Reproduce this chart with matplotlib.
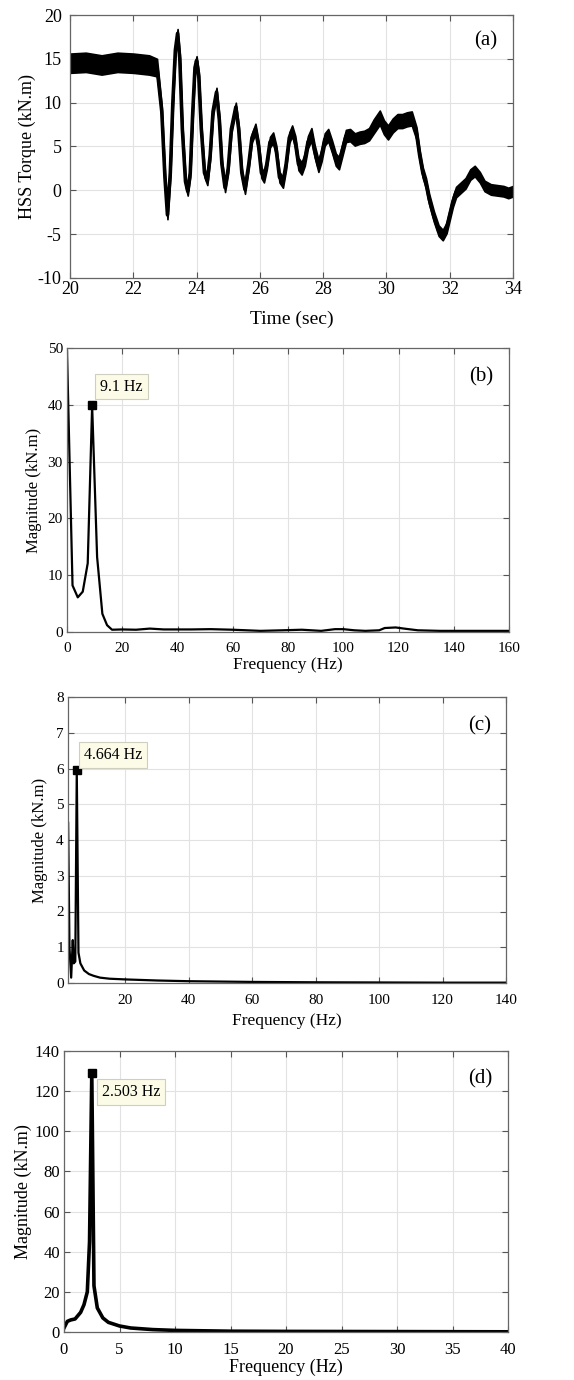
import matplotlib
matplotlib.use("Agg")
import matplotlib.pyplot as plt
import numpy as np

plt.rcParams['font.family'] = ['Liberation Serif', 'DejaVu Serif']
plt.rcParams['axes.unicode_minus'] = False

# ---------------- data ----------------
# (a) HSS torque: time, band centre, band half-width
time_a = [20.0, 20.5, 21.0, 21.5, 22.0, 22.5, 22.75, 22.9, 23.0, 23.08, 23.17, 23.25, 23.33, 23.4,
          23.47, 23.55, 23.65, 23.72, 23.8, 23.88, 23.95, 24.0, 24.07, 24.15, 24.25, 24.34, 24.43,
          24.52, 24.63, 24.72, 24.8, 24.9, 25.0, 25.1, 25.24, 25.33, 25.43, 25.53, 25.65, 25.75,
          25.86, 25.96, 26.05, 26.13, 26.22, 26.32, 26.42, 26.52, 26.62, 26.73, 26.83, 26.93, 27.02,
          27.12, 27.22, 27.32, 27.42, 27.52, 27.63, 27.73, 27.85, 27.95, 28.05, 28.16, 28.28, 28.4,
          28.5, 28.6, 28.72, 28.85, 29.0, 29.15, 29.3, 29.45, 29.6, 29.79, 29.92, 30.05, 30.2, 30.35,
          30.5, 30.65, 30.8, 30.95, 31.05, 31.15, 31.25, 31.35, 31.5, 31.65, 31.78, 31.9, 32.0, 32.1,
          32.2, 32.35, 32.5, 32.65, 32.79, 32.95, 33.1, 33.3, 33.5, 33.7, 33.85, 34.0]
torque_a = [14.5, 14.6, 14.3, 14.6, 14.5, 14.3, 14.0, 9.0, 1.5, -2.8, 2.0, 10.0, 16.0, 17.9,
            15.0, 7.0, 1.0, -0.1, 2.0, 9.0, 14.0, 14.8, 13.0, 7.0, 2.0, 1.1, 4.0,
            9.0, 11.2, 8.0, 3.0, 0.3, 2.5, 7.0, 9.5, 7.0, 2.0, 0.1, 3.0, 6.0,
            7.0, 5.0, 2.0, 1.5, 3.0, 5.5, 6.0, 4.5, 1.5, 0.9, 3.0, 6.0, 6.8,
            5.5, 3.0, 2.5, 3.5, 5.5, 6.4, 4.5, 2.8, 4.0, 5.8, 6.3, 5.0, 3.5,
            3.1, 4.5, 6.2, 6.3, 5.8, 6.0, 6.1, 6.4, 7.3, 8.3, 7.2, 6.6, 7.4, 7.9,
            7.9, 8.1, 8.2, 6.5, 4.0, 2.0, 0.8, -1.0, -3.0, -4.6, -5.1, -4.3, -2.8, -1.3,
            -0.2, 0.3, 0.8, 1.8, 2.2, 1.5, 0.5, 0.1, 0.0, -0.1, -0.3, -0.1]
halfw_a = [1.1, 1.1, 1.1, 1.1, 1.1, 1.1, 1.0, 0.6, 0.5, 0.5, 0.5, 0.5, 0.5, 0.5,
           0.5, 0.5, 0.5, 0.5, 0.5, 0.5, 0.5, 0.5, 0.5, 0.5, 0.5, 0.5, 0.5,
           0.5, 0.5, 0.5, 0.5, 0.5, 0.5, 0.5, 0.5, 0.5, 0.5, 0.5, 0.5, 0.5,
           0.6, 0.6, 0.6, 0.6, 0.6, 0.6, 0.6, 0.6, 0.6, 0.6, 0.6, 0.6, 0.6,
           0.7, 0.7, 0.7, 0.7, 0.7, 0.7, 0.7, 0.7, 0.7, 0.7, 0.7, 0.7, 0.7,
           0.7, 0.7, 0.7, 0.7, 0.7, 0.7, 0.7, 0.7, 0.8, 0.8, 0.8, 0.8, 0.8, 0.8,
           0.8, 0.8, 0.8, 0.7, 0.6, 0.6, 0.6, 0.6, 0.6, 0.6, 0.6, 0.6, 0.6, 0.6,
           0.6, 0.6, 0.6, 0.6, 0.6, 0.6, 0.6, 0.6, 0.6, 0.6, 0.6, 0.6]

# (b) spectrum
freq_b = [0.0, 2.0, 3.9, 5.7, 7.5, 9.1, 10.9, 12.8, 14.5, 16.3, 20, 25, 30, 35, 45, 52, 60, 70,
          78, 85, 92, 97, 100, 104, 108, 113, 115, 119, 122, 127, 135, 140, 150, 160]
mag_b = [49.4, 8.2, 6.1, 7.1, 12.1, 39.8, 13.2, 3.2, 1.2, 0.4, 0.45, 0.4, 0.6, 0.45, 0.45, 0.5,
         0.4, 0.2, 0.3, 0.4, 0.2, 0.5, 0.5, 0.3, 0.2, 0.3, 0.7, 0.8, 0.6, 0.3, 0.2, 0.2, 0.2, 0.2]
peak_b = (9.1, 40.0)

# (c) spectrum
freq_c = [1.94, 2.36, 2.9, 3.4, 3.7, 4.2, 4.664, 5.2, 5.8, 7.0, 8.5, 10, 12, 15, 20, 30, 40,
          50, 60, 80, 100, 120, 140]
mag_c = [4.48, 1.0, 0.15, 1.2, 0.55, 0.6, 5.95, 0.85, 0.55, 0.35, 0.25, 0.2, 0.15, 0.12, 0.1,
         0.07, 0.05, 0.04, 0.03, 0.02, 0.015, 0.01, 0.01]
peak_c = (4.664, 5.95)

# (d) spectrum
freq_d = [0.0, 0.3, 0.6, 1.0, 1.5, 1.8, 2.1, 2.3, 2.503, 2.7, 3.0, 3.5, 4.0, 5.0, 6.0, 8.0,
          10.0, 15.0, 20.0, 30.0, 40.0]
mag_d = [2.0, 5.3, 6.0, 6.5, 9.8, 13.6, 20.0, 45.0, 129.0, 23.0, 12.0, 7.0, 4.8, 3.0, 2.0, 1.2,
         0.8, 0.4, 0.3, 0.2, 0.1]
peak_d = (2.503, 129.0)

# ---------------- layout ----------------
W, H = 574, 1380
fig = plt.figure(figsize=(W / 100, H / 100), dpi=100)


def make_ax(l, r, t, b):
    return fig.add_axes([l / W, 1 - b / H, (r - l) / W, (b - t) / H])


def style(ax, tick_fs, xpad, ypad=3):
    ax.grid(True, color='#e2e2e2', linewidth=0.8)
    ax.set_axisbelow(True)
    ax.tick_params(direction='in', top=True, right=True, length=4, width=0.8,
                   color='#555555', labelsize=tick_fs)
    ax.tick_params(axis='x', pad=xpad)
    ax.tick_params(axis='y', pad=ypad)
    for s in ax.spines.values():
        s.set_color('#666666')
        s.set_linewidth(0.9)


box = dict(boxstyle='square,pad=0.3', facecolor='#fbfbe8', edgecolor='#cfcfc0', linewidth=0.8)

# (a)
ax = make_ax(70, 513, 15, 278)
t = np.array(time_a)
c = np.array(torque_a)
h = np.array(halfw_a)
ax.fill_between(t, c - h, c + h, color='black', linewidth=1.2, edgecolor='black')
ax.plot(t, c, color='black', lw=2.6, solid_joinstyle='round')
ax.set_xlim(20, 34)
ax.set_ylim(-10, 20)
ax.set_xticks(np.arange(20, 35, 2))
ax.set_yticks(np.arange(-10, 21, 5))
style(ax, 13, 2, ypad=6)
ax.set_xlabel('Time (sec)', fontsize=14, labelpad=9)
ax.set_ylabel('HSS Torque (kN.m)', fontsize=13, labelpad=1)
ax.text(0.965, 0.9, '(a)', transform=ax.transAxes, ha='right', va='center', fontsize=15)

# (b)
ax = make_ax(67, 509, 348, 632)
ax.plot(freq_b, mag_b, color='black', lw=1.6)
ax.plot([peak_b[0]], [peak_b[1]], 's', color='black', ms=6)
ax.text(12.0, 43.2, '9.1 Hz', fontsize=11.5, ha='left', va='center', bbox=box)
ax.set_xlim(0, 160)
ax.set_ylim(0, 50)
ax.set_xticks(np.arange(0, 161, 20))
ax.set_yticks(np.arange(0, 51, 10))
style(ax, 11, 7)
ax.set_xlabel('Frequency (Hz)', fontsize=12.5, labelpad=2)
ax.set_ylabel('Magnitude (kN.m)', fontsize=12, labelpad=4)
ax.text(0.965, 0.9, '(b)', transform=ax.transAxes, ha='right', va='center', fontsize=15)

# (c)
ax = make_ax(68, 506, 697, 983)
ax.plot(freq_c, mag_c, color='black', lw=1.6)
ax.plot([peak_c[0]], [peak_c[1]], 's', color='black', ms=6)
ax.text(7.0, 6.37, '4.664 Hz', fontsize=11.5, ha='left', va='center', bbox=box)
ax.set_xlim(1.9, 140)
ax.set_ylim(0, 8)
ax.set_xticks(np.arange(20, 141, 20))
ax.set_yticks(np.arange(0, 9, 1))
style(ax, 11, 8)
ax.set_xlabel('Frequency (Hz)', fontsize=12.5, labelpad=4)
ax.set_ylabel('Magnitude (kN.m)', fontsize=12, labelpad=6)
ax.text(0.965, 0.9, '(c)', transform=ax.transAxes, ha='right', va='center', fontsize=15)

# (d)
ax = make_ax(64, 508, 1051, 1332)
ax.plot(freq_d, mag_d, color='black', lw=2.6)
ax.plot([peak_d[0]], [peak_d[1]], 's', color='black', ms=6)
ax.text(3.4, 119.5, '2.503 Hz', fontsize=11.5, ha='left', va='center', bbox=box)
ax.set_xlim(0, 40)
ax.set_ylim(0, 140)
ax.set_xticks(np.arange(0, 41, 5))
ax.set_yticks(np.arange(0, 141, 20))
style(ax, 12, 7)
ax.set_xlabel('Frequency (Hz)', fontsize=13, labelpad=1)
ax.set_ylabel('Magnitude (kN.m)', fontsize=13, labelpad=2)
ax.text(0.965, 0.9, '(d)', transform=ax.transAxes, ha='right', va='center', fontsize=15)

fig.savefig('out.png', dpi=100, facecolor='white')
